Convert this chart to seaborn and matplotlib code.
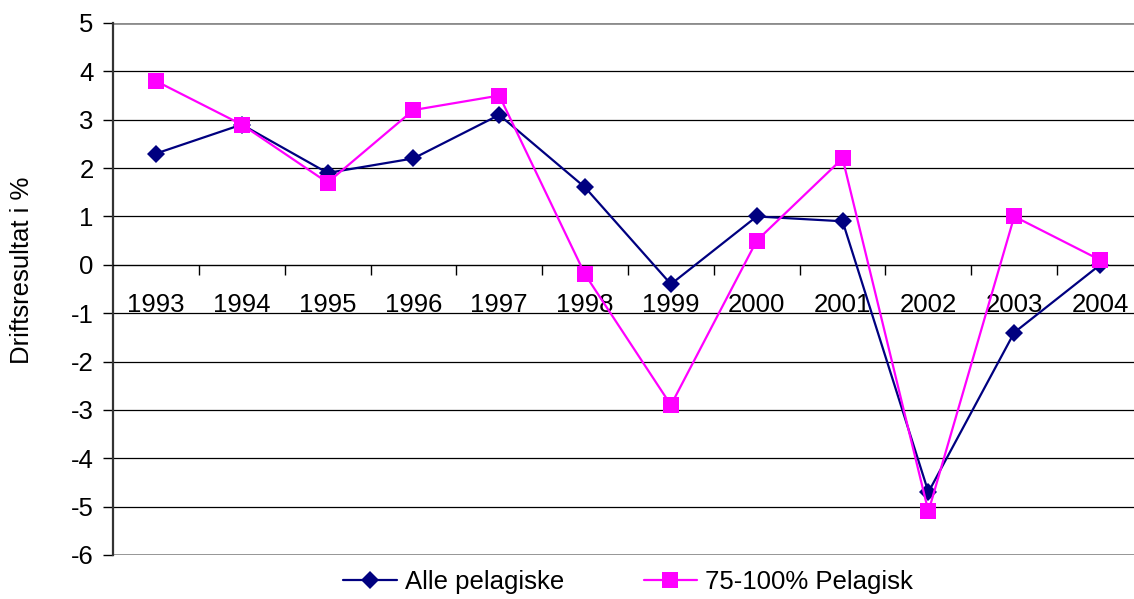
import pandas as pd
import matplotlib.pyplot as plt
import seaborn as sns
from matplotlib.lines import Line2D

years = ['1993', '1994', '1995', '1996', '1997', '1998', '1999', '2000', '2001', '2002', '2003', '2004']
alle = [2.3, 2.9, 1.9, 2.2, 3.1, 1.6, -0.4, 1.0, 0.9, -4.7, -1.4, 0.0]
pel75 = [3.8, 2.9, 1.7, 3.2, 3.5, -0.2, -2.9, 0.5, 2.2, -5.1, 1.0, 0.1]
series = ['Alle pelagiske', '75-100% Pelagisk']

df = pd.DataFrame({
    'year': years * 2,
    'value': alle + pel75,
    'serie': [series[0]] * len(years) + [series[1]] * len(years),
})
df['pos'] = df.groupby('serie').cumcount()

sns.set_style('white')
plt.rcParams['font.family'] = ['Liberation Sans', 'DejaVu Sans']
plt.rcParams['axes.unicode_minus'] = False
plt.rcParams['text.color'] = 'black'
plt.rcParams['xtick.color'] = 'black'
plt.rcParams['ytick.color'] = 'black'
plt.rcParams['axes.labelcolor'] = 'black'
fs = 18.5

fig = plt.figure(figsize=(11.34, 5.99), dpi=100)
ax = fig.add_axes([113 / 1134, 44 / 599, 1030 / 1134, 532 / 599])

for y in range(-5, 5):
    if y != 0:
        ax.axhline(y, color='black', lw=0.9, zorder=0)
ax.axhline(5, color='#8c8c8c', lw=2, zorder=0)
ax.axhline(-6, color='#8c8c8c', lw=2, zorder=0)

sns.lineplot(data=df, x='pos', y='value', hue='serie', style='serie',
             palette={series[0]: '#000080', series[1]: '#FF00FF'},
             markers={series[0]: 'D', series[1]: 's'}, dashes=False,
             markersize=11, lw=1.6, markeredgewidth=0, ax=ax, legend=False, zorder=3)
# marker sizes differ slightly
for line, ms in zip(ax.get_lines()[-2:], [9, 12]):
    line.set_markersize(ms)

ax.set_xlim(-0.5, 11.5)
ax.set_ylim(-6, 5)
ax.set_yticks(range(-6, 6))
ax.tick_params(axis='y', labelsize=fs, length=7, width=1, direction='out', left=True, pad=7)

# category axis crosses at zero
ax.spines['bottom'].set_position(('data', 0))
ax.spines['bottom'].set_linewidth(1)
ax.spines['bottom'].set_color('black')
ax.spines['top'].set_visible(False)
ax.spines['right'].set_visible(False)
ax.spines['left'].set_color('#333333')
ax.spines['left'].set_linewidth(1.6)
ax.set_xticks(range(len(years)))
ax.set_xticklabels(years)
ax.set_xticks([i + 0.5 for i in range(len(years))], minor=True)
ax.tick_params(axis='x', which='major', length=0, labelsize=fs, pad=20)
ax.tick_params(axis='x', which='minor', length=7, width=1, direction='out', bottom=True)
ax.set_xlabel('')
ax.set_ylabel('Driftsresultat i %', fontsize=fs)
ax.yaxis.set_label_coords(-0.077, 0.536)

handles = [
    Line2D([], [], color='#000080', marker='D', markersize=9, lw=1.6, markeredgewidth=0),
    Line2D([], [], color='#FF00FF', marker='s', markersize=12, lw=1.6, markeredgewidth=0),
]
ax.legend(handles, series, loc='upper center', bbox_to_anchor=(0.5, -0.008), ncol=2,
          frameon=False, fontsize=fs, columnspacing=3.1, handlelength=2.1, handletextpad=0.3,
          borderaxespad=0)

fig.savefig('out.png', dpi=100)
